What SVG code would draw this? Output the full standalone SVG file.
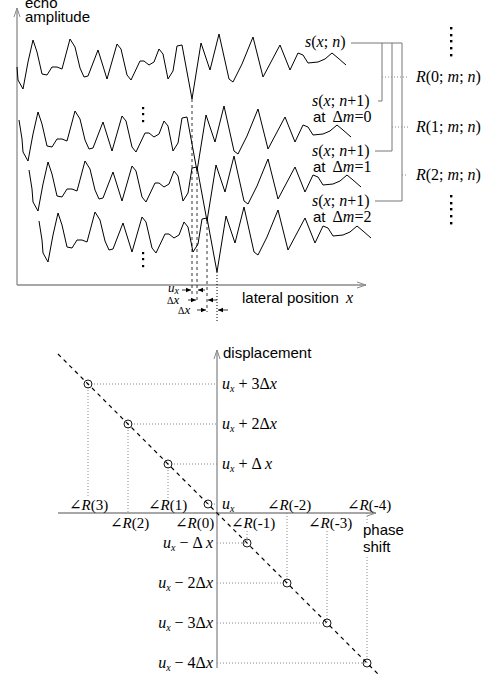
<svg xmlns="http://www.w3.org/2000/svg" xmlns:xlink="http://www.w3.org/1999/xlink" width="492" height="677" viewBox="0 0 492 677">
<style>
.sans{font-family:"Liberation Sans",Arial,sans-serif;font-size:15px;fill:#000}
.math{font-family:"Liberation Serif","DejaVu Serif",serif;font-size:16px;fill:#000}
.ang{font-size:15px}
.small{font-size:13px}
.it{font-style:italic}
.sub{font-size:10px;font-style:italic}
.axis{stroke:#8a8a8a;stroke-width:1.3;fill:none}
.wave{stroke:#000;stroke-width:1;fill:none;stroke-linejoin:round}
.conn{stroke:#777;stroke-width:1;fill:none}
.dot{stroke:#888;stroke-width:1;stroke-dasharray:1 2;fill:none}
.dash{stroke:#000;stroke-width:0.8;stroke-dasharray:3 3;fill:none}
.diag{stroke:#000;stroke-width:1.2;stroke-dasharray:4 4;fill:none}
.pt{stroke:#000;stroke-width:0.9;fill:none}
.arr{stroke:#000;stroke-width:0.8;fill:none}
.vdots{fill:#000}
</style>
<defs>
<marker id="ah" markerUnits="userSpaceOnUse" markerWidth="10" markerHeight="8" refX="9" refY="4" orient="auto">
<path d="M0,1 L9,4 L0,7" fill="none" stroke="#8a8a8a" stroke-width="1"/>
</marker>
<marker id="sa" markerUnits="userSpaceOnUse" markerWidth="6" markerHeight="6" refX="5" refY="3" orient="auto">
<path d="M0,0.8 L5,3 L0,5.2 Z" fill="#000"/>
</marker>
<polyline id="base" points="14,48 17,67 18,80 23,89 28,62 33,40 37,52 42,74 47,75 52,67 57,67 62,69 70,39 75,47 80,68 84,77 88,76 98,50 107,79 117,44 121,49 127,75 131,80 140,61 144,61 149,65 154,62 159,49 163,54 168,79 173,71 177,46 182,45 192,99 201,43 210,70 219,34 229,79 233,82 242,64 253,37 263,77 280,45 290,70 298,53 303,55 308,63 318,62 325,59 332,53 338,58 346,65"/>
</defs>
<rect width="492" height="677" fill="#fff"/>

<g id="top-axes">
<line class="axis" x1="17" y1="285" x2="17" y2="8" marker-end="url(#ah)"/>
<line class="axis" x1="17" y1="285" x2="366" y2="285" marker-end="url(#ah)"/>
<text class="sans"><tspan x="25" y="8">echo</tspan><tspan x="25" y="22">amplitude</tspan></text>
<text x="242" y="303"><tspan class="sans">lateral position </tspan><tspan class="math it" dx="3">x</tspan></text>
</g>

<g id="waves">
<polyline class="wave" points="17,67 18,80 23,89 28,62 33,40 37,52 42,74 47,75 52,67 57,67 62,69 70,39 75,47 80,68 84,77 88,76 98,50 107,79 117,44 121,49 127,75 131,80 140,61 144,61 149,65 154,62 159,49 163,54 168,79 173,71 177,46 182,45 192,99 201,43 210,70 219,34 229,79 233,82 242,64 253,37 263,77 280,45 290,70 298,53 303,55 308,63 318,62 325,59 332,53 338,58 346,65"/>
<use xlink:href="#base" href="#base" class="wave" transform="translate(5,72)"/>
<use xlink:href="#base" href="#base" class="wave" transform="translate(15,122)"/>
<use xlink:href="#base" href="#base" class="wave" transform="translate(25,173)"/>
<g class="vdots">
<rect x="142" y="107" width="2.2" height="2.2"/><rect x="142" y="113" width="2.2" height="2.2"/><rect x="142" y="120" width="2.2" height="2.2"/>
<rect x="142" y="252" width="2.2" height="2.2"/><rect x="142" y="258" width="2.2" height="2.2"/><rect x="142" y="265" width="2.2" height="2.2"/>
</g>
</g>

<g id="shift-marks">
<line class="dash" x1="192" y1="99" x2="192" y2="296"/>
<line class="dash" x1="197" y1="171" x2="197" y2="303"/>
<line class="dash" x1="207" y1="221" x2="207" y2="312"/>
<line class="dot" style="stroke:#000" x1="217" y1="272" x2="217" y2="322"/>
<text class="math small" x="168" y="292"><tspan class="it">u</tspan><tspan class="sub" dy="2">x</tspan></text>
<line class="arr" x1="182" y1="290" x2="191" y2="290" marker-end="url(#sa)"/>
<line class="arr" x1="205" y1="290" x2="198" y2="290" marker-end="url(#sa)"/>
<text class="math small" x="167" y="304"><tspan font-size="10">Δ</tspan><tspan class="it">x</tspan></text>
<line class="arr" x1="188" y1="300" x2="196" y2="300" marker-end="url(#sa)"/>
<line class="arr" x1="217" y1="300" x2="208" y2="300" marker-end="url(#sa)"/>
<text class="math small" x="178" y="314"><tspan font-size="10">Δ</tspan><tspan class="it">x</tspan></text>
<line class="arr" x1="197" y1="310" x2="206" y2="310" marker-end="url(#sa)"/>
<line class="arr" x1="228" y1="310" x2="218" y2="310" marker-end="url(#sa)"/>
</g>

<g id="connectors-top">
<polyline class="conn" points="351,43 402,43 402,201 375,201"/>
<polyline class="conn" points="382,43 382,101 378,101"/>
<polyline class="conn" points="392,43 392,151 375,151"/>
<line class="dot" x1="382" y1="77" x2="408" y2="77"/>
<line class="dot" x1="392" y1="127" x2="408" y2="127"/>
<line class="dot" x1="402" y1="175" x2="408" y2="175"/>
</g>

<g id="signal-labels">
<text class="math" x="305" y="47"><tspan class="it">s</tspan>(<tspan class="it">x</tspan>; <tspan class="it">n</tspan>)</text>
<text class="math" x="312" y="106"><tspan class="it">s</tspan>(<tspan class="it">x</tspan>; <tspan class="it">n</tspan>+1)</text>
<text x="313" y="122"><tspan class="sans">at</tspan><tspan class="math" dx="7">Δ</tspan><tspan class="math it">m</tspan><tspan class="math">=0</tspan></text>
<text class="math" x="312" y="156"><tspan class="it">s</tspan>(<tspan class="it">x</tspan>; <tspan class="it">n</tspan>+1)</text>
<text x="313" y="172"><tspan class="sans">at</tspan><tspan class="math" dx="7">Δ</tspan><tspan class="math it">m</tspan><tspan class="math">=1</tspan></text>
<text class="math" x="312" y="206"><tspan class="it">s</tspan>(<tspan class="it">x</tspan>; <tspan class="it">n</tspan>+1)</text>
<text x="313" y="222"><tspan class="sans">at</tspan><tspan class="math" dx="7">Δ</tspan><tspan class="math it">m</tspan><tspan class="math">=2</tspan></text>
</g>

<g id="r-labels">
<text class="math" x="416" y="82"><tspan class="it">R</tspan>(0; <tspan class="it">m</tspan>; <tspan class="it">n</tspan>)</text>
<text class="math" x="416" y="132"><tspan class="it">R</tspan>(1; <tspan class="it">m</tspan>; <tspan class="it">n</tspan>)</text>
<text class="math" x="416" y="180"><tspan class="it">R</tspan>(2; <tspan class="it">m</tspan>; <tspan class="it">n</tspan>)</text>
<g class="vdots">
<rect x="450" y="27" width="2.4" height="2.4"/><rect x="450" y="34" width="2.4" height="2.4"/><rect x="450" y="40" width="2.4" height="2.4"/><rect x="450" y="47" width="2.4" height="2.4"/><rect x="450" y="54" width="2.4" height="2.4"/>
<rect x="450" y="195" width="2.4" height="2.4"/><rect x="450" y="202" width="2.4" height="2.4"/><rect x="450" y="208" width="2.4" height="2.4"/><rect x="450" y="215" width="2.4" height="2.4"/><rect x="450" y="222" width="2.4" height="2.4"/>
</g>
</g>

<g id="bottom-axes">
<line class="axis" x1="217" y1="668" x2="217" y2="350" marker-end="url(#ah)"/>
<line class="axis" x1="58" y1="513" x2="376" y2="513" marker-end="url(#ah)"/>
<text class="sans" x="223" y="358">displacement</text>
<text class="sans"><tspan x="363" y="535">phase</tspan><tspan x="363" y="552">shift</tspan></text>
</g>

<g id="guides">
<line class="dot" x1="88" y1="384" x2="217" y2="384"/>
<line class="dot" x1="128" y1="424" x2="217" y2="424"/>
<line class="dot" x1="168" y1="464" x2="217" y2="464"/>
<line class="dot" x1="208" y1="504" x2="217" y2="504"/>
<line class="dot" x1="217" y1="543" x2="247" y2="543"/>
<line class="dot" x1="217" y1="583" x2="287" y2="583"/>
<line class="dot" x1="217" y1="623" x2="327" y2="623"/>
<line class="dot" x1="217" y1="663" x2="367" y2="663"/>
<line class="dot" x1="88" y1="384" x2="88" y2="498"/>
<line class="dot" x1="128" y1="424" x2="128" y2="513"/>
<line class="dot" x1="168" y1="464" x2="168" y2="498"/>
<line class="dot" x1="247" y1="531" x2="247" y2="543"/>
<line class="dot" x1="287" y1="513" x2="287" y2="583"/>
<line class="dot" x1="327" y1="531" x2="327" y2="623"/>
<line class="dot" x1="367" y1="513" x2="367" y2="523"/>
<line class="dot" x1="367" y1="557" x2="367" y2="663"/>
</g>

<g id="fit-line">
<line class="diag" x1="58" y1="354" x2="378" y2="674"/>
<circle class="pt" cx="88" cy="384" r="4"/>
<circle class="pt" cx="128" cy="424" r="4"/>
<circle class="pt" cx="168" cy="464" r="4"/>
<circle class="pt" cx="208" cy="504" r="4"/>
<circle class="pt" cx="247" cy="543" r="4"/>
<circle class="pt" cx="287" cy="583" r="4"/>
<circle class="pt" cx="327" cy="623" r="4"/>
<circle class="pt" cx="367" cy="663" r="4"/>
</g>

<g id="disp-labels">
<text class="math" x="222" y="389"><tspan class="it">u</tspan><tspan class="sub" dy="3">x</tspan><tspan dy="-3"> + 3Δ</tspan><tspan class="it">x</tspan></text>
<text class="math" x="222" y="429"><tspan class="it">u</tspan><tspan class="sub" dy="3">x</tspan><tspan dy="-3"> + 2Δ</tspan><tspan class="it">x</tspan></text>
<text class="math" x="222" y="469"><tspan class="it">u</tspan><tspan class="sub" dy="3">x</tspan><tspan dy="-3"> + Δ </tspan><tspan class="it">x</tspan></text>
<text class="math" x="222" y="509"><tspan class="it">u</tspan><tspan class="sub" dy="3">x</tspan></text>
<text class="math" x="213" y="548" text-anchor="end"><tspan class="it">u</tspan><tspan class="sub" dy="3">x</tspan><tspan dy="-3"> − Δ </tspan><tspan class="it">x</tspan></text>
<text class="math" x="213" y="588" text-anchor="end"><tspan class="it">u</tspan><tspan class="sub" dy="3">x</tspan><tspan dy="-3"> − 2Δ</tspan><tspan class="it">x</tspan></text>
<text class="math" x="213" y="628" text-anchor="end"><tspan class="it">u</tspan><tspan class="sub" dy="3">x</tspan><tspan dy="-3"> − 3Δ</tspan><tspan class="it">x</tspan></text>
<text class="math" x="213" y="668" text-anchor="end"><tspan class="it">u</tspan><tspan class="sub" dy="3">x</tspan><tspan dy="-3"> − 4Δ</tspan><tspan class="it">x</tspan></text>
</g>

<g id="phase-labels">
<text class="math ang" x="69" y="510">∠<tspan class="it">R</tspan>(3)</text>
<text class="math ang" x="110" y="528">∠<tspan class="it">R</tspan>(2)</text>
<text class="math ang" x="148" y="510">∠<tspan class="it">R</tspan>(1)</text>
<text class="math ang" x="175" y="528">∠<tspan class="it">R</tspan>(0)</text>
<text class="math ang" x="231" y="528">∠<tspan class="it">R</tspan>(-1)</text>
<text class="math ang" x="267" y="510">∠<tspan class="it">R</tspan>(-2)</text>
<text class="math ang" x="308" y="528">∠<tspan class="it">R</tspan>(-3)</text>
<text class="math ang" x="347" y="510">∠<tspan class="it">R</tspan>(-4)</text>
</g>
</svg>
